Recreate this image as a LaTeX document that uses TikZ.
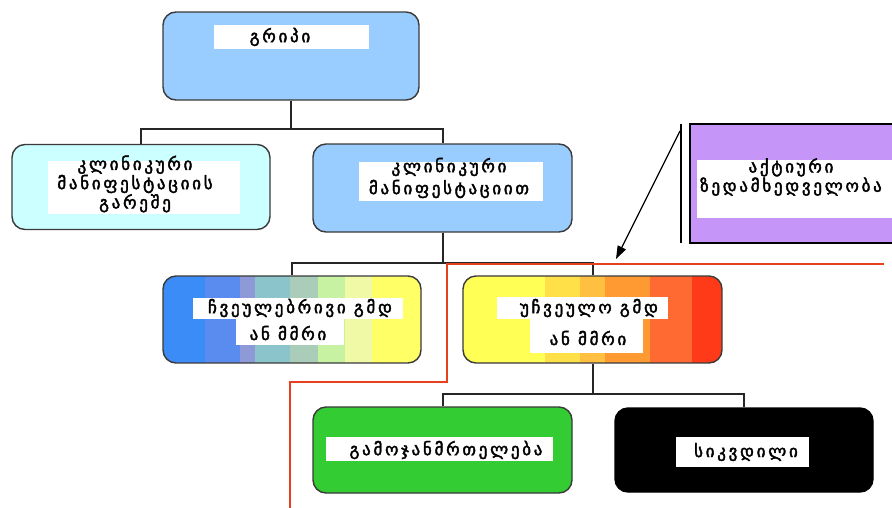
\documentclass[tikz,border=0pt]{standalone}
\usepackage{fontspec}
\usetikzlibrary{arrows.meta}
\newfontfamily\geo[LetterSpace=16,FakeBold=2.4]{DejaVu Sans}
\definecolor{skyblue}{HTML}{99CCFF}
\definecolor{palecyan}{HTML}{CCFFFF}
\definecolor{lavender}{HTML}{C596F8}
\definecolor{leafgreen}{HTML}{33CC33}
\definecolor{redline}{HTML}{E8401C}
\definecolor{edgegray}{HTML}{3A3A3A}
\tikzset{
  box/.style={draw=edgegray, line width=1.4pt, rounded corners=13pt, inner sep=0pt},
  txt/.style={font=\geo\fontsize{17}{17}\selectfont, inner sep=0pt, anchor=center, align=center},
  conn/.style={draw=black!85, line width=2pt},
  frame/.style={draw=redline, line width=2pt},
  arr/.style={draw=black, line width=1.2pt, -{Triangle[length=13pt,width=9pt]}}
}
\begin{document}
\begin{tikzpicture}[x=1pt,y=-1pt]
\clip (0,0) rectangle (892,507);
\fill[white] (0,0) rectangle (892,507);

% colour bands behind the two middle boxes
\begin{scope}
  \clip[rounded corners=13pt] (163,276) rectangle (421,363);
  \foreach \a/\b/\c in {163/205/3C8CF8, 205/240/5A8CF0, 240/255/8E9AD8, 255/290/8CC4CC,
                        290/318/A9CDB8, 318/345/C6F2A2, 345/372/F0FAA6, 372/421/FFFF66}
    {\definecolor{band}{HTML}{\c}\fill[band] (\a,276) rectangle (\b+0.5,363);}
\end{scope}
\begin{scope}
  \clip[rounded corners=13pt] (463,276) rectangle (722,363);
  \foreach \a/\b/\c in {463/545/FFFF55, 545/580/FFE048, 580/605/FFBF40, 605/650/FF9A33,
                        650/692/FF6A33, 692/722/FF3A18}
    {\definecolor{band}{HTML}{\c}\fill[band] (\a,276) rectangle (\b+0.5,363);}
\end{scope}

% boxes
\node[box, fill=skyblue, minimum width=256pt, minimum height=88pt] (b1) at (291,56) {};
\node[box, fill=palecyan, minimum width=258pt, minimum height=85pt] (b2) at (141,187) {};
\node[box, fill=skyblue, minimum width=259pt, minimum height=88pt] (b3) at (442.5,188) {};
\node[box, minimum width=258pt, minimum height=87pt] (b5) at (292,319.5) {};
\node[box, minimum width=259pt, minimum height=87pt] (b6) at (592.5,319.5) {};
\node[box, fill=leafgreen, minimum width=259pt, minimum height=86pt] (b7) at (442.5,450) {};
\node[box, fill=black, draw=black, minimum width=258pt, minimum height=84pt] (b8) at (744,450) {};
\node[draw=black, line width=2pt, fill=lavender, minimum width=210pt, minimum height=119pt, inner sep=0pt] (b4) at (795,183.5) {};
\draw[line width=2pt] (b4.north west) ++(-8,1) coordinate (barTop) -- ([xshift=-8pt,yshift=1pt]b4.south west) coordinate (barBot);

% connectors
\draw[conn] (b1.south) -- ++(0,28) -| (b2.north);
\draw[conn] (b1.south) -- ++(0,28) -| (b3.north);
\draw[conn] (b3.south) -- ++(0,30) -| (b5.north);
\draw[conn] (b3.south) -- ++(0,30) -| (b6.north);
\draw[conn] (b6.south) -- ++(0,30) -| (b7.north);
\draw[conn] (b6.south) -- ++(0,30) -| (b8.north);

% region boundary
\draw[frame] (884,264) -- (447,264) -- (447,382) -- (290,382) -- (290,510);

% pointer from the surveillance box
\coordinate (armStart) at (680,131);
\coordinate (armTip) at (616,259);
\draw[arr] (armStart) -- (armTip);

% white label fields
\fill[white] (214,25) rectangle (369,49);
\fill[white] (48,161) rectangle (240,214);
\fill[white] (359,162) rectangle (543,201);
\fill[white] (697,160) rectangle (892,218);
\fill[white] (193,298) rectangle (403,319);
\fill[white] (236,318) rectangle (344,345);
\fill[white] (497,297) rectangle (668,319);
\fill[white] (530,318) rectangle (643,353);
\fill[white] (326,437) rectangle (553,461);
\fill[white] (676,437) rectangle (809,467);

% texts
\node[txt] (t1) at (280,37) {გრიპი};
\node[txt, font=\geo\fontsize{17}{15.5}\selectfont] (t2) at (135,184) {კლინიკური\\მანიფესტაციის\\გარეშე};
\node[txt, font=\geo\fontsize{17}{22}\selectfont] (t3) at (449,178) {კლინიკური\\მანიფესტაციით};
\node[txt, font=\geo\fontsize{17}{17}\selectfont] (t4) at (791,177) {აქტიური\\ზედამხედველობა};
\node[txt] (t5a) at (300,308) {ჩვეულებრივი გმდ};
\node[txt] (t5b) at (288,333) {ან მმრი};
\node[txt] (t6a) at (589,308) {უჩვეულო გმდ};
\node[txt] (t6b) at (588,338) {ან მმრი};
\node[txt] (t7) at (446,450) {გამოჯანმრთელება};
\node[txt] (t8) at (746,452) {სიკვდილი};
\end{tikzpicture}
\end{document}
